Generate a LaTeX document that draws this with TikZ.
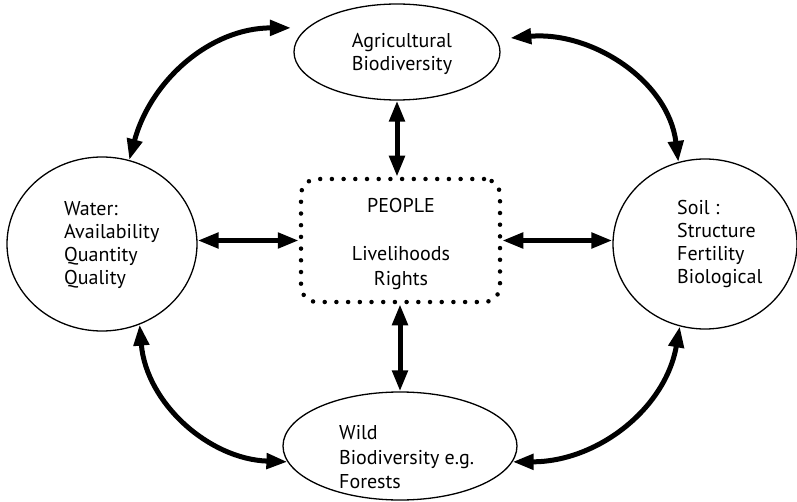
\documentclass[tikz,border=0pt]{standalone}
\usepackage{fontspec}
\setmainfont{PT Sans}
\usetikzlibrary{shapes.geometric,arrows.meta}
\begin{document}
\begin{tikzpicture}[x=1pt,y=1pt,
  topic/.style={draw, ellipse, line width=1.3pt, inner sep=0pt},
  lbl/.style={align=left, inner sep=0pt, font=\fontsize{20}{23}\selectfont},
  widelbl/.style={lbl, font=\fontsize{20}{24.5}\selectfont},
  hub/.style={draw, rounded corners=16pt, line width=4.5pt,
    dash pattern=on 0pt off 11.7pt, line cap=round, inner sep=0pt},
  link/.style={line width=5pt,
    {Triangle[length=21pt,width=15pt]}-{Triangle[length=21pt,width=15pt]}},
  ]
\useasboundingbox (0,0) rectangle (797,501);

% resource ellipses
\node[topic, minimum width=206pt, minimum height=96pt]  (agri)  at (397,449) {};
\node[topic, minimum width=190pt, minimum height=174pt] (water) at (102,257) {};
\node[topic, minimum width=184pt, minimum height=170pt] (soil)  at (705,257) {};
\node[topic, minimum width=234pt, minimum height=108pt] (wild)  at (400,55)  {};

% central dotted box
\node[hub, minimum width=199pt, minimum height=123pt] (people) at (400.5,260.5) {};

% labels
\node[lbl, align=center] (agrilbl) at (402,447) {Agricultural\\Biodiversity};
\node[lbl, anchor=west] (waterlbl) at (64,256) {Water:\\Availability\\Quantity\\Quality};
\node[lbl, anchor=west] (soillbl) at (677,257) {Soil :\\Structure\\Fertility\\Biological};
\node[widelbl, anchor=west] (wildlbl) at (339,43.5) {Wild\\Biodiversity e.g.\\Forests};
\node[widelbl, align=center] (peoplelbl) at (401,257) {PEOPLE\\[24pt]Livelihoods\\Rights};

% links between the people and each resource
\draw[link] (agri.south) -- (agri.south |- people.north);
\draw[link] (wild.north |- people.south) -- (wild.north);
\draw[link] (water.east |- people.west) -- (people.west);
\draw[link] (people.east) -- (people.east -| soil.west);

% links around the ring of resources
\draw[link] (water.72) to[out=75,in=180] ([xshift=-16pt]agri.165);
\draw[link] ([xshift=14pt]agri.8) to[out=5,in=97] (soil.108);
\draw[link] (water.-65) to[out=-85,in=178] (wild.188);
\draw[link] (wild.-8) to[out=0,in=-100] (soil.253);
\end{tikzpicture}
\end{document}
